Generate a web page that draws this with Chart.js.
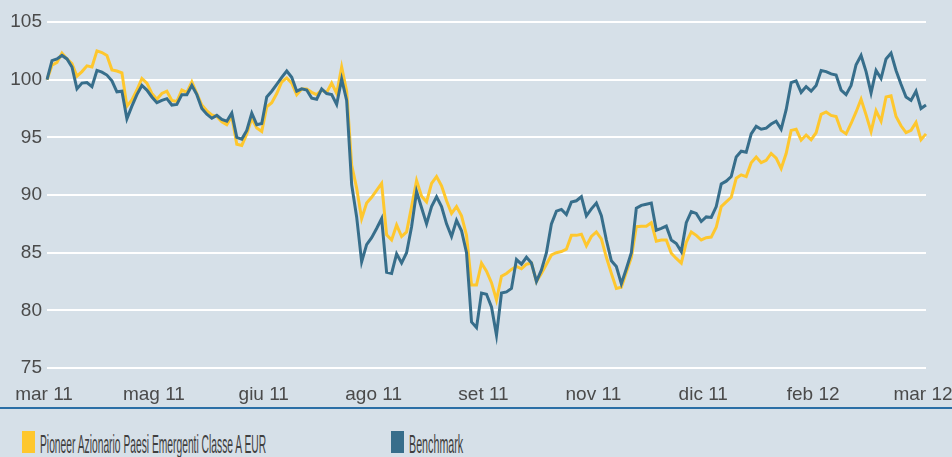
<!DOCTYPE html>
<html>
<head>
<meta charset="utf-8">
<script src="https://cdn.jsdelivr.net/npm/chart.js@4.4.1/dist/chart.umd.min.js"></script>
<style>
  html, body { margin: 0; padding: 0; background: #d6e0e8; }
  #wrap { position: relative; width: 952px; height: 457px; overflow: hidden; background: #d6e0e8; }
  #chartCanvas { position: absolute; left: 0; top: 0; }
  #rule { position: absolute; left: 0; top: 407px; width: 952px; height: 2px; background: #2b6fa6; }
  .swatch { position: absolute; top: 431px; width: 13px; height: 22px; }
  .legText { position: absolute; top: 432px; font-family: "Liberation Sans Narrow", "Liberation Sans", sans-serif;
             font-size: 25px; line-height: 25px; color: #3f3f3f; white-space: nowrap; transform-origin: 0 0; }
</style>
</head>
<body>
<div id="wrap">
  <canvas id="chartCanvas" width="952" height="407"></canvas>
  <div id="rule"></div>
  <div class="swatch" style="left:22px; background:#fec72e;"></div>
  <span class="legText" id="leg1" style="left:40px;">Pioneer Azionario Paesi Emergenti Classe A EUR</span>
  <div class="swatch" style="left:391px; background:#376e8b;"></div>
  <span class="legText" id="leg2" style="left:409px;">Benchmark</span>
</div>
<script>
// tick labels shown under the x axis
var tickLabels = ['mar 11', 'mag 11', 'giu 11', 'ago 11', 'set 11', 'nov 11', 'dic 11', 'feb 12', 'mar 12'];

// Pioneer Azionario Paesi Emergenti Classe A EUR (yellow)
var fundValues = [
  100.0, 101.25, 101.5, 102.3, 101.8, 101.4, 100.3, 100.7, 101.2, 101.1,
  102.5, 102.35, 102.1, 100.85, 100.75, 100.6, 97.7, 98.25, 99.1, 100.1,
  99.7, 98.8, 98.3, 98.8, 99.0, 98.2, 98.1, 99.1, 98.9, 99.8,
  98.8, 97.8, 97.3, 96.95, 96.8, 96.35, 96.1, 96.8, 94.4, 94.3,
  95.3, 96.65, 95.8, 95.5, 97.65, 98.0, 98.8, 99.8, 100.15, 99.7,
  98.7, 99.2, 99.2, 98.9, 98.7, 99.1, 98.9, 99.7, 98.8, 101.1,
  99.0, 92.6, 90.6, 87.95, 89.3, 89.8, 90.4, 91.0, 86.55, 86.1,
  87.4, 86.4, 86.8, 89.0, 91.25, 89.9, 89.4, 91.0, 91.6, 90.8,
  89.5, 88.4, 89.0, 88.2, 86.5, 82.2, 82.2, 84.1, 83.4, 82.4,
  80.9, 82.95, 83.2, 83.55, 83.8, 83.6, 84.0, 84.1, 82.5, 83.2,
  84.0, 84.8, 85.0, 85.1, 85.3, 86.5, 86.5, 86.6, 85.6, 86.4,
  86.8, 86.2, 84.6, 83.2, 81.9, 82.0, 83.3, 84.6, 87.25, 87.3,
  87.3, 87.6, 86.0, 86.1, 86.1, 84.95, 84.5, 84.1, 85.9, 86.8,
  86.5, 86.1, 86.3, 86.35, 87.2, 89.0, 89.4, 89.8, 91.45, 91.75,
  91.6, 92.8, 93.3, 92.8, 93.0, 93.6, 93.2, 92.3, 93.6, 95.6,
  95.7, 94.75, 95.2, 94.8, 95.4, 97.0, 97.2, 96.9, 96.8, 95.6,
  95.3, 96.2, 97.2, 98.3, 96.95, 95.5, 97.3, 96.4, 98.5, 98.6,
  96.8, 96.0, 95.4, 95.6, 96.3, 94.8, 95.3
];

// Benchmark (dark blue)
var benchmarkValues = [
  100.0, 101.65, 101.8, 102.1, 101.8, 101.1, 99.2, 99.7, 99.75, 99.4,
  100.8, 100.65, 100.4, 99.9, 98.95, 99.0, 96.6, 97.7, 98.7, 99.5,
  99.1, 98.5, 98.0, 98.2, 98.35, 97.8, 97.85, 98.7, 98.7, 99.5,
  98.7, 97.5, 97.0, 96.65, 96.9, 96.55, 96.4, 97.1, 95.0, 94.85,
  95.6, 97.1, 96.1, 96.2, 98.5, 99.0, 99.6, 100.2, 100.75, 100.2,
  99.0, 99.2, 99.1, 98.4, 98.3, 99.2, 98.8, 98.7, 97.85, 100.05,
  98.2, 90.9, 88.1, 84.2, 85.7, 86.3, 87.1, 87.95, 83.3, 83.2,
  84.9, 84.1, 85.0, 87.25, 90.3, 88.9, 87.5, 89.0, 89.85, 89.0,
  87.5, 86.4, 87.8, 86.9, 85.0, 79.0, 78.5, 81.5, 81.4, 80.3,
  77.85, 81.5, 81.6, 81.9, 84.4, 84.0, 84.6, 84.1, 82.5, 83.5,
  85.0, 87.5, 88.6, 88.75, 88.3, 89.4, 89.5, 89.85, 88.2, 88.8,
  89.3, 88.2, 86.1, 84.3, 83.8, 82.3, 83.6, 85.0, 88.85, 89.1,
  89.2, 89.3, 86.95, 87.1, 87.3, 86.1, 85.8, 85.1, 87.6, 88.55,
  88.4, 87.7, 88.1, 88.05, 89.0, 90.95, 91.2, 91.6, 93.3, 93.8,
  93.7, 95.3, 95.95, 95.7, 95.8, 96.15, 96.4, 95.7, 97.4, 99.75,
  99.9, 98.9, 99.4, 99.0, 99.5, 100.8, 100.7, 100.5, 100.4, 99.1,
  98.7, 99.5, 101.3, 102.1, 100.7, 98.85, 100.8, 100.1, 101.8, 102.3,
  100.8, 99.6, 98.5, 98.2, 99.0, 97.5, 97.8
];

// one category per observation; a month label every 22 observations
var labelStep = 22;
var categories = fundValues.map(function (v, i) {
  return i % labelStep === 0 ? tickLabels[i / labelStep] : '';
});

var tickFont = { family: 'Liberation Sans', size: 19 };
var tickColor = '#4a4a4a';

var ctx = document.getElementById('chartCanvas').getContext('2d');

var chart = new Chart(ctx, {
  type: 'line',
  data: {
    labels: categories,
    datasets: [{
      label: 'Benchmark',
      data: benchmarkValues,
      borderColor: '#376e8b',
      borderWidth: 3,
      pointRadius: 0,
      tension: 0,
      order: 1
    }, {
      label: 'Pioneer Azionario Paesi Emergenti Classe A EUR',
      data: fundValues,
      borderColor: '#fec72e',
      borderWidth: 3,
      pointRadius: 0,
      tension: 0,
      order: 2
    }]
  },
  options: {
    responsive: false,
    animation: false,
    layout: { padding: { top: 22, right: 26, left: 0, bottom: 0 } },
    plugins: { legend: { display: false }, tooltip: { enabled: false } },
    scales: {
      x: {
        type: 'category',
        grid: { display: false },
        border: { display: false },
        ticks: {
          autoSkip: false, maxRotation: 0, minRotation: 0,
          font: tickFont, color: tickColor, padding: 7, labelOffset: -3
        },
        afterFit: function (scale) {
          scale.height = 39;
          scale.paddingLeft = 0;
          scale.paddingRight = 0;
        }
      },
      y: {
        min: 75, max: 105,
        grid: { color: '#ffffff', lineWidth: 2, drawTicks: false },
        border: { display: false },
        ticks: { stepSize: 5, font: tickFont, color: tickColor, padding: 5 },
        afterFit: function (scale) { scale.width = 47; }
      }
    }
  }
});

// squeeze the legend texts to the narrow type of the original
function fitText(id, target) {
  var el = document.getElementById(id);
  el.style.transform = 'scaleX(' + (target / el.offsetWidth) + ')';
}
fitText('leg1', 226);
fitText('leg2', 54);
</script>
</body>
</html>
